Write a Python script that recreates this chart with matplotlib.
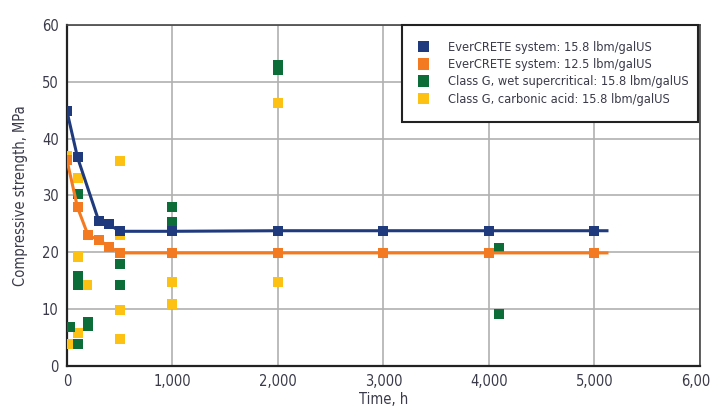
import matplotlib.pyplot as plt
from matplotlib.patches import Patch
from matplotlib import font_manager

# EverCRETE 15.8 lbm/galUS
blue_t = [0, 100, 300, 400, 500, 1000, 2000, 3000, 4000, 5000]
blue_v = [44.8, 36.7, 25.6, 24.9, 23.7, 23.7, 23.8, 23.8, 23.8, 23.8]
# EverCRETE 12.5 lbm/galUS
orange_t = [0, 100, 200, 300, 400, 500, 1000, 2000, 3000, 4000, 5000]
orange_v = [36.2, 27.9, 23.0, 22.2, 21.0, 19.9, 19.9, 19.9, 19.9, 19.9, 19.9]
# trend line end
line_end = 5120

# Class G, wet supercritical
green_t = [30, 100, 100, 100, 100, 200, 200, 500, 500, 1000, 1000, 2000, 2000, 4100, 4100]
green_v = [6.9, 30.2, 15.9, 14.2, 3.9, 7.0, 7.8, 18.0, 14.2, 28.0, 25.3, 53.0, 52.0, 20.8, 9.2]
# Class G, carbonic acid
yellow_t = [0, 20, 100, 100, 100, 190, 500, 500, 500, 500, 1000, 1000, 2000, 2000]
yellow_v = [37.0, 3.9, 33.0, 19.2, 5.8, 14.2, 36.0, 23.0, 9.9, 4.8, 14.7, 10.9, 46.2, 14.8]

labels = ["EverCRETE system: 15.8 lbm/galUS",
          "EverCRETE system: 12.5 lbm/galUS",
          "Class G, wet supercritical: 15.8 lbm/galUS",
          "Class G, carbonic acid: 15.8 lbm/galUS"]
colors = ["#1f3a7d", "#f47a22", "#0c6d38", "#fdc114"]

names = {f.name for f in font_manager.fontManager.ttflist}
narrow = [n for n in ["Liberation Sans Narrow", "DejaVu Sans Condensed"] if n in names]
font = narrow + ["DejaVu Sans"]
stretch = "condensed"
txt = "#3a3a4a"

fig = plt.figure(figsize=(7.11, 4.13), dpi=100)
ax = fig.add_axes([0.0942, 0.1138, 0.890, 0.8257])

ms = 7
ax.scatter(yellow_t, yellow_v, marker="s", s=ms**2, color=colors[3], zorder=3, linewidths=0)
ax.scatter(green_t, green_v, marker="s", s=ms**2, color=colors[2], zorder=3, linewidths=0)

ax.plot(orange_t + [line_end], orange_v + [orange_v[-1]], color=colors[1], lw=2.2, zorder=4)
ax.scatter(orange_t, orange_v, marker="s", s=ms**2, color=colors[1], zorder=5, linewidths=0)
ax.plot(blue_t + [line_end], blue_v + [blue_v[-1]], color=colors[0], lw=2.2, zorder=4)
ax.scatter(blue_t, blue_v, marker="s", s=ms**2, color=colors[0], zorder=5, linewidths=0)

ax.set_xlim(0, 6000)
ax.set_ylim(0, 60)
ax.set_xticks(range(0, 6001, 1000))
ax.set_xticklabels(["0", "1,000", "2,000", "3,000", "4,000", "5,000", "6,000"])
ax.set_yticks(range(0, 61, 10))
ax.grid(True, color="#b0b0b0", lw=1.2)
ax.set_axisbelow(True)
ax.tick_params(length=0, pad=6, labelsize=10.5, labelcolor=txt)
for lab in ax.get_xticklabels() + ax.get_yticklabels():
    lab.set_family(font)
    lab.set_stretch(stretch)
for s in ax.spines.values():
    s.set_color("#444444")
    s.set_linewidth(1.2)
ax.spines["left"].set_color("#222222")
ax.spines["left"].set_linewidth(1.6)
ax.spines["bottom"].set_color("#222222")
ax.spines["bottom"].set_linewidth(1.6)

ax.set_xlabel("Time, h", family=font, stretch=stretch, fontsize=10.5, color=txt, labelpad=2)
ax.set_ylabel("Compressive strength, MPa", family=font, stretch=stretch, fontsize=10.5,
              color=txt, labelpad=10)

handles = [Patch(facecolor=c, edgecolor="none") for c in colors]
leg = ax.legend(handles, labels, loc="upper left", bbox_to_anchor=(0.529, 0.704, 0.468, 0.296),
                mode="expand", prop={"family": font, "size": 9.2, "stretch": stretch},
                frameon=True, fancybox=False,
                handlelength=0.85, handleheight=1.0, handletextpad=1.5,
                borderpad=1.25, labelspacing=0.32, borderaxespad=0.0)
leg.get_frame().set_edgecolor("#222222")
leg.get_frame().set_linewidth(1.5)
leg.get_frame().set_alpha(1)
for t in leg.get_texts():
    t.set_color(txt)

fig.savefig("out.png", dpi=100)
